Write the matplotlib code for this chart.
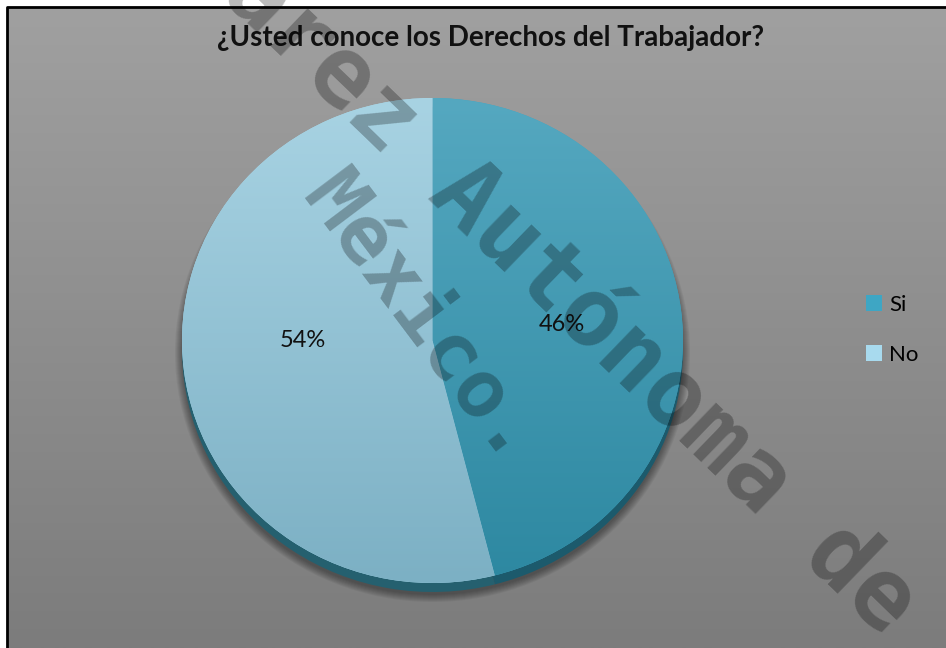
import numpy as np
import matplotlib.pyplot as plt
from matplotlib.colors import LinearSegmentedColormap
from matplotlib.patches import Ellipse, Rectangle

# data
labels = ["Si", "No"]
values = [46, 54]
title = "¿Usted conoce los Derechos del Trabajador?"
watermark = ["Juárez Autónoma de", "México."]

# colours (top -> bottom of each gradient)
face_top = ["#55a8c0", "#a8d3e3"]
face_bottom = ["#2d88a1", "#7cb0c4"]
side_colors = ["#1c5a6c", "#25606f"]
legend_colors = ["#3ea6c4", "#a8daee"]

W, H = 946, 648
fig = plt.figure(figsize=(W / 100, H / 100), dpi=100)
fig.patch.set_facecolor("white")

# background panel in pixel coordinates
bg = fig.add_axes([0, 0, 1, 1])
bg.set_xlim(0, W)
bg.set_ylim(H, 0)
bg.axis("off")
grad = np.linspace(0, 1, 256).reshape(-1, 1)
bg_cmap = LinearSegmentedColormap.from_list("bg", ["#a0a0a0", "#7c7c7c"])
bg.imshow(grad, cmap=bg_cmap, extent=[8, W, H, 8], aspect="auto", zorder=0)
bg.plot([7, 7, W], [H, 7, 7], color="black", lw=2, zorder=1)

# pie face box (pixels)
x0, x1, y0, y1 = 182, 683, 98, 583
depth = 9
cx, cy = (x0 + x1) / 2, (y0 + y1) / 2

# soft shadow under the pie
for i in range(8):
    bg.add_patch(Ellipse((cx, cy + depth + 3), (x1 - x0) + 2 * i, (y1 - y0) + 2 * i,
                         facecolor="black", edgecolor="none", alpha=0.05, zorder=2))


def pie_axes(offset):
    a = fig.add_axes([x0 / W, 1 - (y1 + offset) / H, (x1 - x0) / W, (y1 - y0) / H])
    a.set_facecolor("none")
    return a


# 3D side of the pie
sax = pie_axes(depth)
sax.pie(values, colors=side_colors, startangle=90, counterclock=False,
        wedgeprops=dict(linewidth=0))
sax.set_aspect("auto")
sax.set_xlim(-1, 1)
sax.set_ylim(-1, 1)

# pie face
pax = pie_axes(0)
wedges, _, autotexts = pax.pie(values, colors=legend_colors, startangle=90,
                               counterclock=False, autopct="%d%%", pctdistance=0.52,
                               wedgeprops=dict(linewidth=0),
                               textprops=dict(fontsize=17, family="Lato", color="#111111"))
for w, top, bot in zip(wedges, face_top, face_bottom):
    cm = LinearSegmentedColormap.from_list("g", [top, bot])
    im = pax.imshow(grad, cmap=cm, extent=[-1, 1, -1, 1], aspect="auto", zorder=w.get_zorder())
    im.set_clip_path(w)
for t in autotexts:
    t.set_zorder(5)
# Excel puts the 54% label level with the centre
autotexts[1].set_y(0.0)
pax.set_aspect("auto")
pax.set_xlim(-1, 1)
pax.set_ylim(-1, 1)
pax.axis("off")

# title
fig.text(491 / W, 1 - 38 / H, title, ha="center", va="center", fontsize=20,
         family="Lato", weight="bold", color="#111111")

# legend
handles = [Rectangle((0, 0), 1, 1, facecolor=c, edgecolor="none") for c in legend_colors]
fig.legend(handles, labels, loc="center left", bbox_to_anchor=(846 / W, 1 - 330 / H),
           frameon=False, labelspacing=1.35, handlelength=0.7,
           handleheight=0.7, handletextpad=0.35, prop=dict(family="Lato", size=16))

# watermark
wm_style = dict(ha="center", va="center", rotation_mode="anchor",
                family="DejaVu Sans Mono", weight="bold",
                color="black", alpha=0.27, zorder=10)
fig.text(528 / W, 1 - 258 / H, watermark[0], rotation=-44, fontsize=69, **wm_style)
fig.text(420 / W, 1 - 320 / H, watermark[1], rotation=-53, fontsize=58, **wm_style)

fig.savefig("out.png", dpi=100)
